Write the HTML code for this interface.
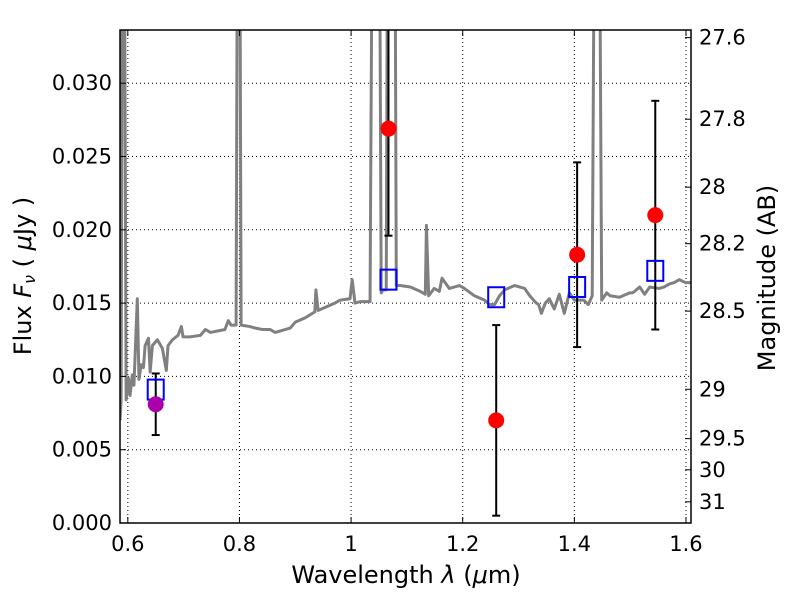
<!DOCTYPE html>
<html><head><meta charset="utf-8"><style>
html,body{margin:0;padding:0;background:#fff}
svg{display:block;font-family:"DejaVu Sans","Liberation Sans",sans-serif}
</style></head><body>
<svg id="chart" width="800" height="600" viewBox="0 0 800 600">
<defs><clipPath id="clip"><rect x="120" y="30" width="571" height="493"/></clipPath></defs>
<rect x="0" y="0" width="800" height="600" fill="#fff"/>
<g id="grid"></g>
<g id="spec" clip-path="url(#clip)"></g>
<g id="marks" clip-path="url(#clip)"></g>
<rect x="120" y="30" width="571" height="493" fill="none" stroke="#000" stroke-width="1.5"/>
<g id="axes"></g>
<text x="406" y="583" font-size="24" text-anchor="middle">Wavelength  <tspan font-style="italic">λ</tspan> (<tspan font-style="italic">μ</tspan>m)</text>
<text transform="translate(31,276) rotate(-90)" font-size="24" text-anchor="middle">Flux  <tspan font-style="italic">F</tspan><tspan font-size="16" dy="4" font-style="italic">ν</tspan><tspan dy="-4">  ( </tspan><tspan font-style="italic">μ</tspan>Jy )</text>
<text transform="translate(775,278) rotate(-90)" font-size="24" text-anchor="middle">Magnitude (AB)</text>
</svg>
<script>
const specWave=[0.586,0.588,0.591,0.593,0.597,0.601,0.604,0.608,0.611,0.617,0.620,0.624,0.628,0.631,0.637,0.640,0.644,0.653,0.662,0.669,0.672,0.680,0.690,0.696,0.699,0.712,0.730,0.739,0.748,0.774,0.780,0.785,0.794,0.797,0.800,0.803,0.819,0.828,0.841,0.855,0.864,0.891,0.900,0.918,0.935,0.937,0.941,0.953,0.971,0.980,0.998,1.002,1.007,1.016,1.034,1.039,1.050,1.054,1.057,1.063,1.066,1.078,1.081,1.088,1.106,1.124,1.133,1.135,1.139,1.149,1.158,1.163,1.176,1.194,1.203,1.221,1.239,1.248,1.257,1.266,1.275,1.293,1.311,1.320,1.327,1.332,1.336,1.341,1.348,1.355,1.364,1.373,1.382,1.391,1.400,1.417,1.425,1.432,1.437,1.444,1.449,1.458,1.464,1.481,1.499,1.504,1.508,1.517,1.526,1.535,1.552,1.561,1.570,1.579,1.588,1.599,1.609];
const specFlux=[0.0070,0.0084,0.05,0.05,0.0084,0.0099,0.0087,0.0101,0.0094,0.0153,0.0098,0.0108,0.0106,0.0121,0.0126,0.0103,0.0121,0.0125,0.0119,0.0104,0.0121,0.0125,0.0128,0.0134,0.0127,0.0127,0.0128,0.0132,0.0130,0.0132,0.0138,0.0135,0.0135,0.05,0.05,0.0135,0.0134,0.0133,0.0132,0.0132,0.0130,0.0133,0.0137,0.0140,0.0144,0.0159,0.0145,0.0147,0.0150,0.0152,0.0153,0.0166,0.0150,0.0151,0.0151,0.05,0.05,0.0157,0.0159,0.0159,0.05,0.05,0.0162,0.0162,0.0161,0.0158,0.0156,0.0203,0.0155,0.0160,0.0158,0.0167,0.0160,0.0162,0.0160,0.0155,0.0152,0.0149,0.0149,0.0155,0.0159,0.0162,0.0160,0.0155,0.0152,0.0150,0.0149,0.0143,0.0150,0.0153,0.0146,0.0156,0.0143,0.0157,0.0152,0.0152,0.0149,0.0155,0.05,0.05,0.0152,0.0157,0.0155,0.0154,0.0157,0.0157,0.0158,0.0161,0.0156,0.0161,0.0160,0.0161,0.0163,0.0164,0.0166,0.0164,0.0164];
const photWave=[1.067,1.260,1.405,1.545];
const photFlux=[0.0269,0.0070,0.0183,0.0210];
const photErr=[0.0073,0.0065,0.0063,0.0078];
const hstWave=[0.650];
const hstFlux=[0.0081];
const hstErr=[0.0021];
const modelWave=[0.650,1.067,1.260,1.405,1.545];
const modelFlux=[0.0091,0.0166,0.0154,0.0161,0.0172];
const xTicks=[0.6,0.8,1.0,1.2,1.4,1.6];
const xTickLabels=["0.6","0.8","1","1.2","1.4","1.6"];
const yTicks=[0,0.005,0.010,0.015,0.020,0.025,0.030];
const yTickLabels=["0.000","0.005","0.010","0.015","0.020","0.025","0.030"];
const magTicks=[27.6,27.8,28,28.2,28.5,29,29.5,30,31];
const magTickLabels=["27.6","27.8","28","28.2","28.5","29","29.5","30","31"];

const NS="http://www.w3.org/2000/svg";
const X0=120,X1=691,Y0=523,Y1=30,xmin=0.586,xmax=1.609,ymin=0,ymax=0.03363;
const sx=v=>X0+(v-xmin)/(xmax-xmin)*(X1-X0);
const sy=v=>Y0-(v-ymin)/(ymax-ymin)*(Y0-Y1);
const magToFlux=m=>Math.pow(10,(23.9-m)/2.5);
function mk(tag,attrs,parent){const e=document.createElementNS(NS,tag);for(const k in attrs)e.setAttribute(k,attrs[k]);parent.appendChild(e);return e;}
const grid=document.getElementById('grid'),axes=document.getElementById('axes'),spec=document.getElementById('spec'),marks=document.getElementById('marks');

xTicks.forEach((t,i)=>{const x=sx(t);
 const g=mk('line',{x1:x,x2:x,y1:Y1,y2:Y0,stroke:'#000','stroke-width':1,'stroke-dasharray':'1,3'},grid);
 
 
 mk('line',{x1:x,x2:x,y1:Y0,y2:Y0-6,stroke:'#000'},axes);
 mk('line',{x1:x,x2:x,y1:Y1,y2:Y1+6,stroke:'#000'},axes);
 const tx=mk('text',{x:x,y:Y0+28,'font-size':21,'text-anchor':'middle'},axes);tx.textContent=xTickLabels[i];
 
 
});
yTicks.forEach((t,i)=>{const y=sy(t);
 const g=mk('line',{x1:X0,x2:X1,y1:y,y2:y,stroke:'#000','stroke-width':1,'stroke-dasharray':'1,3'},grid);
 
 
 mk('line',{x1:X0,x2:X0+6,y1:y,y2:y,stroke:'#000'},axes);
 const tx=mk('text',{x:X0-8,y:y+7,'font-size':21,'text-anchor':'end'},axes);tx.textContent=yTickLabels[i];
 
 
});
magTicks.forEach((m,i)=>{const y=sy(magToFlux(m));
 mk('line',{x1:X1,x2:X1-6,y1:y,y2:y,stroke:'#000'},axes);
 const tx=mk('text',{x:X1+8,y:y+7,'font-size':21,'text-anchor':'start'},axes);tx.textContent=magTickLabels[i];
 
 
});

const pl=mk('polyline',{points:specWave.map((w,i)=>sx(w)+','+sy(specFlux[i])).join(' '),fill:'none',stroke:'#808080','stroke-width':3,'stroke-linejoin':'round'},spec);



function errbar(w,f,e,name){const x=sx(w);
 const l=mk('line',{x1:x,x2:x,y1:sy(f-e),y2:sy(f+e),stroke:'#000','stroke-width':2},marks);
 
 
 [f-e,f+e].forEach(v=>mk('line',{x1:x-4,x2:x+4,y1:sy(v),y2:sy(v),stroke:'#000','stroke-width':2},marks));
}
photWave.forEach((w,i)=>errbar(w,photFlux[i],photErr[i],'photometry-error-bar'));
hstWave.forEach((w,i)=>errbar(w,hstFlux[i],hstErr[i],'hst-error-bar'));
modelWave.forEach((w,i)=>{
 const r=mk('rect',{x:sx(w)-8,y:sy(modelFlux[i])-10,width:16,height:20,fill:'none',stroke:'#0000ff','stroke-width':2},marks);
 
 
});
photWave.forEach((w,i)=>{
 const c=mk('circle',{cx:sx(w),cy:sy(photFlux[i]),r:8,fill:'#ff0000'},marks);
 
 
});
hstWave.forEach((w,i)=>{
 const c=mk('circle',{cx:sx(w),cy:sy(hstFlux[i]),r:8,fill:'#aa00aa'},marks);
 
 
});
</script>
</body></html>
